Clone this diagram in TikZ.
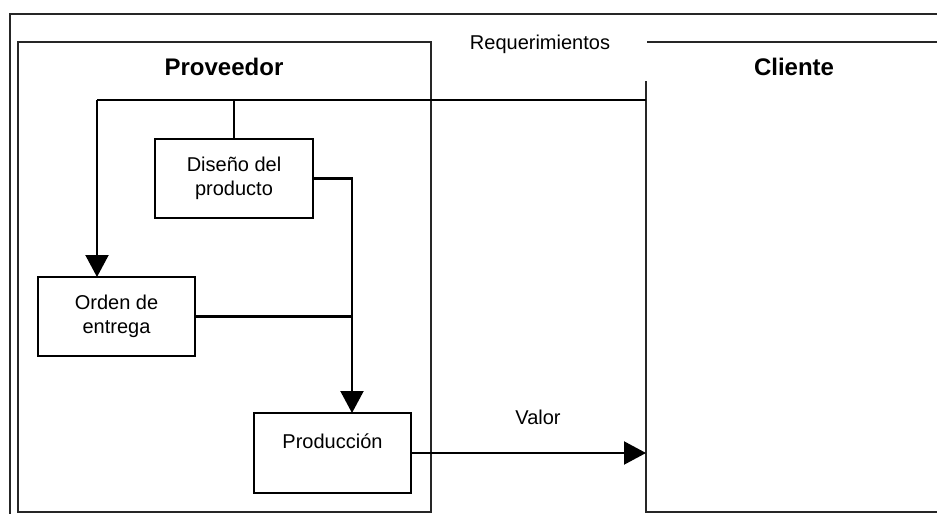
\documentclass[tikz,border=0pt]{standalone}
\usepackage{fontspec}
\setmainfont{Liberation Sans}
\usetikzlibrary{arrows.meta}
\begin{document}
\begin{tikzpicture}[x=1pt,y=-1pt,
  frame/.style={line width=1.1pt,draw=black!85},
  procbox/.style={draw,line width=1.1pt,inner sep=0pt,outer sep=0pt,
    align=center,font=\fontsize{20}{24.5}\selectfont},
  title/.style={font=\fontsize{24}{28}\selectfont\bfseries},
  lbl/.style={font=\fontsize{20}{24}\selectfont},
  link/.style={line width=2.1pt},
  flow/.style={link,-{Triangle[width=23pt,length=22pt]}}]
  \useasboundingbox (0,0) rectangle (937,514);
  % outer frame (top and left edges)
  \draw[frame] (10,514) -- (10,14) -- (937,14);
  % supplier area
  \draw[frame] (18,42) rectangle (431,512);
  % customer area, open at the top-left corner
  \draw[frame] (646,81) -- (646,512) -- (937,512);
  \draw[frame] (647,42) -- (937,42);
  % titles and labels
  \node[title] (tprov) at (224,67) {Proveedor};
  \node[title] (tcli) at (794,67) {Cliente};
  \node[lbl] (treq) at (540,44) {Requerimientos};
  \node[lbl] (tval) at (538,417) {Valor};
  % process boxes
  \node[procbox,minimum width=158pt,minimum height=79pt] (dis) at (234,178.5) {Dise\~no del\\producto};
  \node[procbox,minimum width=157pt,minimum height=79pt] (ord) at (116.5,316.5) {Orden de\\entrega};
  \node[procbox,minimum width=157pt,minimum height=80pt] (prod) at (332.5,453) {Producci\'on\\\mbox{}};
  % junction points
  \coordinate (rq) at (646,100);
  \coordinate (ja) at (97,100);
  \coordinate (jb) at (234,100);
  \coordinate (jc) at (352,316.5);
  \coordinate (cin) at (646,453);
  % requirements flow
  \draw[link] (ja) -- (rq);
  \draw[link] (jb) -- (dis.north);
  \draw[flow] (ja) -- (ja |- ord.north);
  % design and order feed production
  \draw[link] (dis.east) -| (jc);
  \draw[link] (ord.east) -- (jc);
  \draw[flow] (jc) -- (jc |- prod.north);
  % value delivered to the customer
  \draw[flow] (prod.east) -- (cin);
\end{tikzpicture}
\end{document}
